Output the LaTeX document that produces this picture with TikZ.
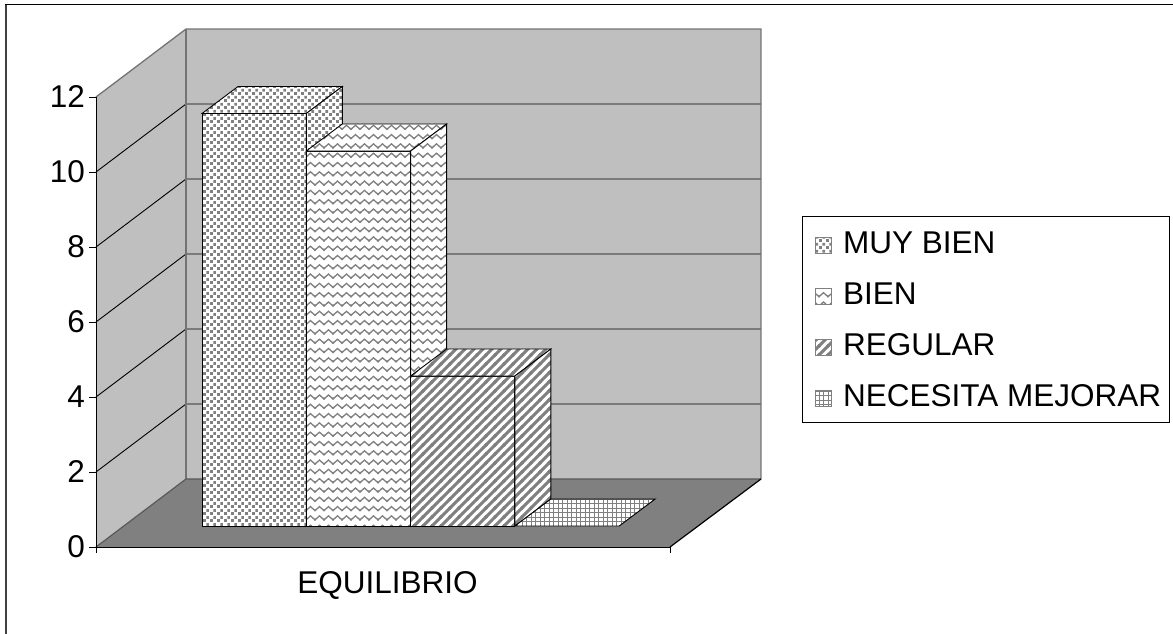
\documentclass[tikz,border=0pt]{standalone}
\usepackage{fontspec}
\setmainfont{Liberation Sans}
\usetikzlibrary{patterns}
\pgfdeclarepatternformonly{mydots}{\pgfpointorigin}{\pgfpoint{7pt}{7pt}}{\pgfpoint{7pt}{7pt}}{%
  \pgfpathrectangle{\pgfpoint{0.2pt}{0.2pt}}{\pgfpoint{3pt}{3pt}}%
  \pgfpathrectangle{\pgfpoint{3.7pt}{3.7pt}}{\pgfpoint{3pt}{3pt}}%
  \pgfusepath{fill}}
\pgfdeclarepatternformonly{myzigzag}{\pgfpoint{-1pt}{-1pt}}{\pgfpoint{10pt}{10.3pt}}{\pgfpoint{9pt}{9.3pt}}{%
  \pgfsetlinewidth{1.3pt}%
  \pgfpathmoveto{\pgfpoint{-2.25pt}{4.5pt}}%
  \pgfpathlineto{\pgfpoint{0pt}{2.5pt}}%
  \pgfpathlineto{\pgfpoint{4.5pt}{6.5pt}}%
  \pgfpathlineto{\pgfpoint{9pt}{2.5pt}}%
  \pgfpathlineto{\pgfpoint{11.25pt}{4.5pt}}%
  \pgfusepath{stroke}}
\pgfdeclarepatternformonly{mystripes}{\pgfpoint{-1pt}{-1pt}}{\pgfpoint{10pt}{10pt}}{\pgfpoint{9pt}{9pt}}{%
  \pgfsetlinewidth{3pt}%
  \pgfpathmoveto{\pgfpoint{-1pt}{-1pt}}\pgfpathlineto{\pgfpoint{10pt}{10pt}}%
  \pgfpathmoveto{\pgfpoint{-1pt}{8pt}}\pgfpathlineto{\pgfpoint{1pt}{10pt}}%
  \pgfpathmoveto{\pgfpoint{8pt}{-1pt}}\pgfpathlineto{\pgfpoint{10pt}{1pt}}%
  \pgfusepath{stroke}}
\pgfdeclarepatternformonly{mygrid}{\pgfpoint{-0.5pt}{-0.5pt}}{\pgfpoint{4.5pt}{4.5pt}}{\pgfpoint{4.5pt}{4.5pt}}{%
  \pgfsetlinewidth{0.9pt}%
  \pgfpathmoveto{\pgfpoint{0pt}{-0.5pt}}\pgfpathlineto{\pgfpoint{0pt}{4.5pt}}%
  \pgfpathmoveto{\pgfpoint{-0.5pt}{0pt}}\pgfpathlineto{\pgfpoint{4.5pt}{0pt}}%
  \pgfusepath{stroke}}
\definecolor{wallc}{gray}{0.75}
\definecolor{floorc}{gray}{0.5}
\definecolor{edgec}{gray}{0.45}
\definecolor{patc}{gray}{0.5}
\newcommand\lblfont{\fontsize{31.5}{36}\selectfont}
\newcommand\drawbar[4]{%
  \filldraw[face, pattern=#4] (#1,526) -- (#2,526) -- (#2,#3) -- (#1,#3) -- cycle;
  \filldraw[face, pattern=#4] (#1,#3) -- (#2,#3) -- (#2+36,#3-27) -- (#1+36,#3-27) -- cycle;
  \filldraw[face, pattern=#4] (#2,526) -- (#2+36,499) -- (#2+36,#3-27) -- (#2,#3) -- cycle;
}
\begin{document}
\begin{tikzpicture}[x=1pt,y=-1pt,line join=miter,
  face/.style={draw=black, line width=0.9pt, preaction={fill=white}, pattern color=patc},
  grid line/.style={draw=black, line width=0.9pt},
  wall edge/.style={draw=edgec, line width=1.3pt},
  lbl/.style={font=\lblfont, inner sep=0pt},
  swatch/.style={draw=gray, line width=0.7pt, preaction={fill=white}, pattern color=patc}]
\useasboundingbox (0,0) rectangle (1173,634);
% frame
\draw[line width=2pt, black!75] (5.5,4) -- (5.5,634);
\draw[line width=1.4pt] (4.5,4.5) -- (1173,4.5);
% walls and floor
\fill[wallc] (186,29) rectangle (761,479);
\fill[wallc] (96,97) -- (186,29) -- (186,479) -- (96,547) -- cycle;
\fill[floorc] (96,547) -- (670,547) -- (761,479) -- (186,479) -- cycle;
\foreach \v in {2,4,...,10} {
  \draw[grid line] (96,547-37.5*\v) -- (186,479-37.5*\v) -- (761,479-37.5*\v);
}
\draw[wall edge] (96,97) -- (186,29) -- (761,29) -- (761,479);
\draw[wall edge] (186,29) -- (186,479);
\draw[draw=black!65, line width=1.2pt] (96,547) -- (186,479) -- (761,479);
\draw[line width=1.2pt] (670,547) -- (761,479);
% axes
\draw[line width=1pt] (96,97) -- (96,553);
\draw[line width=1pt] (96,547) -- (670,547);
\draw[line width=1pt] (670,547) -- (670,553);
\foreach \v in {0,2,...,12} {
  \draw[line width=1pt] (89,547-37.5*\v) -- (96,547-37.5*\v);
  \node[lbl, anchor=base east] (y\v) at (85,557-37.5*\v) {\v};
}
\node[lbl, anchor=base] (cat) at (387.5,593) {EQUILIBRIO};
% bars
\drawbar{202}{306.3}{113.5}{mydots}
\drawbar{306.3}{410.6}{151}{myzigzag}
\drawbar{410.6}{514.9}{376}{mystripes}
\filldraw[face, pattern=mygrid] (514.9,526) -- (619.2,526) -- (655.2,499) -- (550.9,499) -- cycle;
% legend
\draw[line width=0.9pt, fill=white] (802,216) rectangle (1169,422);
\foreach \i/\p/\t in {0/mydots/MUY BIEN, 1/myzigzag/BIEN, 2/mystripes/REGULAR, 3/mygrid/NECESITA MEJORAR} {
  \filldraw[swatch, pattern=\p] (815,237+51*\i) rectangle (831,253+51*\i);
  \node[lbl, anchor=base west] (leg\i) at (843,253+51*\i) {\t};
}
\end{tikzpicture}
\end{document}
